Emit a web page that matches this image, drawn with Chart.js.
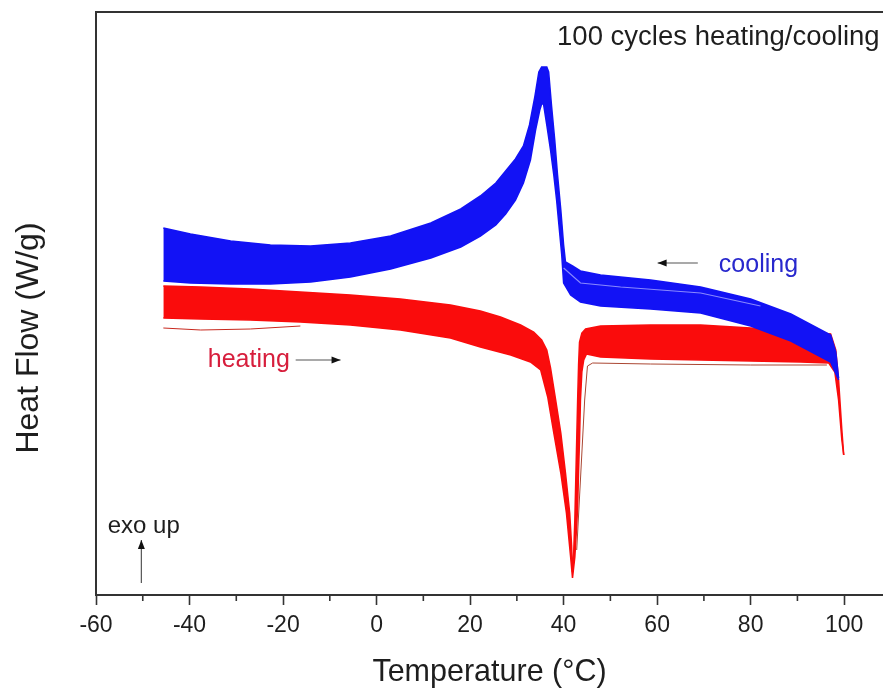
<!DOCTYPE html>
<html>
<head>
<meta charset="utf-8">
<script src="https://cdn.jsdelivr.net/npm/chart.js@4.4.1/dist/chart.umd.min.js"></script>
<style>
html, body { margin: 0; padding: 0; overflow: hidden; background: #fff; }
canvas { display: block; }
</style>
</head>
<body>
<canvas id="c" width="883" height="692" style="width:883px;height:692px"></canvas>
<script>
// ---- Data (Temperature in °C, Heat Flow in W/g, arbitrary offset) ----
// Cooling band (100 cycles) – upper and lower envelope
const coolingUpperT  = [-45.6,-39.8,-31.2,-22.7,-14.1,-5.6,3.0,11.6,18.0,22.2,25.5,27.6,29.7,31.4,32.7,33.8,34.7,35.3,36.4,36.8,37.4,38.1,38.7,39.4,40.0,40.4,41.9,43.6,47.9,58.6,69.3,80.0,88.6,97.1,98.2,98.8];
const coolingUpperHF = [0.17,0.11,0.04,0.00,-0.01,0.02,0.09,0.22,0.36,0.49,0.62,0.74,0.86,0.99,1.20,1.47,1.73,1.78,1.78,1.73,1.40,1.05,0.70,0.35,0.00,-0.17,-0.21,-0.26,-0.30,-0.35,-0.42,-0.54,-0.69,-0.90,-1.07,-1.33];
const coolingLowerT  = [-45.6,-39.8,-31.2,-22.7,-14.1,-5.6,3.0,11.6,18.0,22.2,25.5,27.6,29.7,31.4,32.9,34.0,34.9,35.3,35.7,36.4,37.2,37.9,38.5,39.1,39.6,40.0,41.5,43.6,47.9,58.6,69.3,80.0,88.6,97.1,98.8];
const coolingLowerHF = [-0.36,-0.38,-0.39,-0.39,-0.37,-0.32,-0.24,-0.13,-0.02,0.09,0.20,0.31,0.45,0.62,0.85,1.15,1.35,1.41,1.41,1.20,0.95,0.70,0.45,0.15,-0.10,-0.38,-0.50,-0.57,-0.61,-0.64,-0.68,-0.81,-0.96,-1.17,-1.35];
// a lighter trace visible inside the cooling band
const coolingTraceT  = [40.0,43.6,52.2,69.3,82.1];
const coolingTraceHF = [-0.23,-0.38,-0.42,-0.48,-0.61];

// Heating band (100 cycles) – upper and lower envelope
const heatingUpperT  = [-45.6,-37.6,-27.0,-16.3,-5.6,5.1,15.8,22.2,26.5,30.8,33.6,35.3,36.4,37.2,38.3,39.4,40.4,41.3,41.7,41.9,42.1,42.4,42.6,42.8,43.0,43.2,43.4,43.9,44.7,47.9,58.6,69.3,80.0,90.7,97.1,98.2,98.8,99.5,99.9];
const heatingUpperHF = [-0.41,-0.42,-0.44,-0.47,-0.50,-0.54,-0.60,-0.66,-0.72,-0.80,-0.87,-0.95,-1.05,-1.23,-1.55,-1.88,-2.28,-2.68,-3.00,-3.27,-3.15,-2.75,-2.35,-1.95,-1.55,-1.20,-0.97,-0.88,-0.84,-0.81,-0.80,-0.80,-0.83,-0.86,-0.89,-1.05,-1.35,-1.85,-2.10];
const heatingLowerT  = [-45.6,-37.6,-27.0,-16.3,-5.6,5.1,15.8,22.2,28.7,32.9,35.1,36.6,37.9,39.4,40.6,41.5,41.9,42.4,42.8,43.0,43.2,43.4,43.6,43.9,44.3,44.9,47.9,58.6,69.3,80.0,90.7,96.7,98.0,98.8,99.5,99.9];
const heatingLowerHF = [-0.73,-0.74,-0.75,-0.77,-0.80,-0.85,-0.93,-1.02,-1.10,-1.17,-1.25,-1.52,-1.88,-2.28,-2.68,-3.12,-3.33,-3.12,-2.80,-2.62,-2.25,-1.95,-1.55,-1.27,-1.15,-1.09,-1.12,-1.14,-1.15,-1.16,-1.17,-1.18,-1.27,-1.55,-1.95,-2.10];
// first heating cycle, visible below the band
const heatingFirstLeftT   = [-45.6,-37.6,-27.0,-16.3];
const heatingFirstLeftHF  = [-0.83,-0.85,-0.84,-0.81];
const heatingFirstRightT  = [42.8,43.6,44.5,45.1,46.2,58.6,80.0,96.3];
const heatingFirstRightHF = [-3.05,-2.35,-1.55,-1.21,-1.18,-1.19,-1.20,-1.20];

// Axis ticks (the frame continues past the right edge of the picture)
const xMin = -60, xMax = 108.3;
const xMajorTicks = [-60, -40, -20, 0, 20, 40, 60, 80, 100];
const xMinorTicks = [-50, -30, -10, 10, 30, 50, 70, 90];
const yMin = -3.5, yMax = 2.33;

// ---- Styling ----
const FONT = '"Liberation Sans", Arial, Helvetica, sans-serif';
const BLUE = 'rgb(18,18,245)';
const RED = 'rgb(250,12,12)';
const INK = '#1e1e1e';
Chart.defaults.font.family = FONT;

const pts = (xs, ys) => xs.map((x, i) => ({x: x, y: ys[i]}));

const framePlugin = {
  id: 'frame',
  afterDraw(chart) {
    const {ctx, chartArea: a, scales} = chart;
    const xs = scales.x;
    ctx.save();
    ctx.strokeStyle = '#333';
    ctx.lineWidth = 2;
    ctx.beginPath();
    ctx.moveTo(a.left, a.top); ctx.lineTo(a.right + 2, a.top);
    ctx.stroke();
    // minor ticks
    ctx.lineWidth = 1.6;
    xMinorTicks.forEach(v => {
      const p = xs.getPixelForValue(v);
      ctx.beginPath(); ctx.moveTo(p, a.bottom); ctx.lineTo(p, a.bottom + 6); ctx.stroke();
    });
    // y-axis title
    ctx.fillStyle = INK;
    ctx.font = '32px ' + FONT;
    ctx.textAlign = 'center';
    ctx.textBaseline = 'middle';
    ctx.translate(29, 338);
    ctx.rotate(-Math.PI / 2);
    ctx.fillText('Heat Flow (W/g)', 0, 0);
    ctx.restore();
  }
};

function arrow(ctx, x1, y1, x2, y2) {
  ctx.save();
  ctx.strokeStyle = '#555';
  ctx.fillStyle = '#111';
  ctx.lineWidth = 1.2;
  ctx.beginPath(); ctx.moveTo(x1, y1); ctx.lineTo(x2, y2); ctx.stroke();
  const ang = Math.atan2(y2 - y1, x2 - x1);
  const L = 9, W = 3.5;
  ctx.beginPath();
  ctx.moveTo(x2, y2);
  ctx.lineTo(x2 - L * Math.cos(ang) + W * Math.sin(ang), y2 - L * Math.sin(ang) - W * Math.cos(ang));
  ctx.lineTo(x2 - L * Math.cos(ang) - W * Math.sin(ang), y2 - L * Math.sin(ang) + W * Math.cos(ang));
  ctx.closePath(); ctx.fill();
  ctx.restore();
}

const notesPlugin = {
  id: 'notes',
  afterDraw(chart) {
    const {ctx, scales} = chart;
    const X = v => scales.x.getPixelForValue(v);
    const Y = v => scales.y.getPixelForValue(v);
    ctx.save();
    ctx.textBaseline = 'alphabetic';
    ctx.textAlign = 'left';
    ctx.fillStyle = INK;
    ctx.font = '27.5px ' + FONT;
    ctx.fillText('100 cycles heating/cooling', X(38.6), Y(2.00));
    ctx.fillStyle = 'rgb(40,40,205)';
    ctx.font = '25px ' + FONT;
    ctx.fillText('cooling', X(73.2), Y(-0.27));
    ctx.fillStyle = 'rgb(215,30,60)';
    ctx.fillText('heating', X(-36.1), Y(-1.22));
    ctx.fillStyle = INK;
    ctx.font = '24px ' + FONT;
    ctx.fillText('exo up', X(-57.5), Y(-2.88));
    ctx.restore();
    arrow(ctx, X(68.7), Y(-0.18), X(60.1), Y(-0.18));
    arrow(ctx, X(-17.3), Y(-1.15), X(-7.7), Y(-1.15));
    arrow(ctx, X(-50.3), Y(-3.38), X(-50.3), Y(-2.95));
  }
};

new Chart(document.getElementById('c'), {
  type: 'line',
  data: {
    datasets: [
      {label: 'cooling trace', data: pts(coolingTraceT, coolingTraceHF), borderColor: 'rgba(150,150,255,0.9)', borderWidth: 1.2, fill: false},
      {label: 'cooling upper', data: pts(coolingUpperT, coolingUpperHF), borderColor: BLUE, backgroundColor: BLUE, borderWidth: 1.5, fill: '+1'},
      {label: 'cooling lower', data: pts(coolingLowerT, coolingLowerHF), borderColor: BLUE, borderWidth: 1.5, fill: false},
      {label: 'heating upper', data: pts(heatingUpperT, heatingUpperHF), borderColor: RED, backgroundColor: RED, borderWidth: 1.5, fill: '+1'},
      {label: 'heating lower', data: pts(heatingLowerT, heatingLowerHF), borderColor: RED, borderWidth: 1.5, fill: false},
      {label: 'heating first L', data: pts(heatingFirstLeftT, heatingFirstLeftHF), borderColor: 'rgb(200,40,30)', borderWidth: 1, fill: false},
      {label: 'heating first R', data: pts(heatingFirstRightT, heatingFirstRightHF), borderColor: 'rgb(170,70,50)', borderWidth: 1, fill: false}
    ]
  },
  options: {
    responsive: false,
    animation: false,
    layout: {padding: {top: 12, right: 0, bottom: 0, left: 0}},
    elements: {point: {radius: 0}, line: {tension: 0}},
    plugins: {legend: {display: false}, tooltip: {enabled: false}},
    scales: {
      x: {
        type: 'linear', min: xMin, max: xMax, position: 'bottom',
        afterBuildTicks: s => { s.ticks = xMajorTicks.map(v => ({value: v})); },
        ticks: {
          autoSkip: false, maxRotation: 0, padding: 7,
          color: INK, font: {size: 23},
          callback: v => String(v)
        },
        grid: {
          display: true, drawOnChartArea: false, drawTicks: true, tickLength: 10, tickWidth: 1.6,
          color: 'rgba(0,0,0,0)', tickColor: '#333'
        },
        border: {display: true, color: '#333', width: 2},
        title: {display: true, text: 'Temperature (°C)', color: INK, font: {size: 30.5}, padding: {top: 0, bottom: 1}},
        afterFit: s => { s.height = 97; }
      },
      y: {
        min: yMin, max: yMax,
        ticks: {display: false},
        grid: {display: false, drawTicks: false},
        border: {display: true, color: '#333', width: 2},
        title: {display: false},
        afterFit: s => { s.width = 96; }
      }
    }
  },
  plugins: [framePlugin, notesPlugin]
});
</script>
</body>
</html>
